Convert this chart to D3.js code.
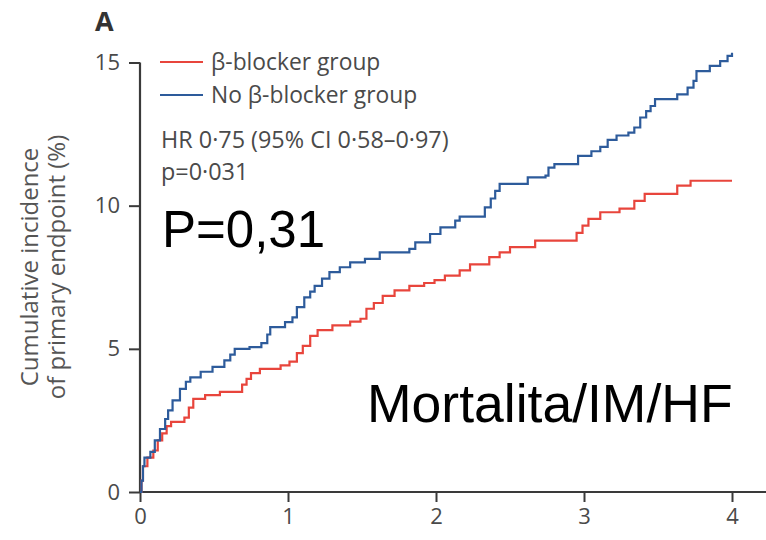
<!DOCTYPE html>
<html><head><meta charset="utf-8">
<script src="https://cdn.jsdelivr.net/npm/d3@7/dist/d3.min.js"></script>
<style>body{margin:0;background:#fff}svg{display:block}</style>
</head><body>
<svg id="chart" width="766" height="540"></svg>
<script>
// Data (years, cumulative incidence %)
const seriesNames = ["β-blocker group", "No β-blocker group"];
const redTime  = [0,0.01,0.02,0.05,0.09,0.12,0.15,0.18,0.21,0.3,0.33,0.36,0.44,0.54,0.69,0.72,0.75,0.81,0.95,1.01,1.06,1.1,1.15,1.2,1.3,1.42,1.49,1.53,1.58,1.64,1.72,1.82,1.92,1.99,2.06,2.16,2.23,2.36,2.43,2.5,2.67,2.95,2.99,3.03,3.11,3.24,3.34,3.41,3.63,3.72,4.0];
const redValue = [0,0.4,0.9,1.2,1.45,1.8,2.05,2.3,2.45,2.6,2.95,3.25,3.38,3.5,3.75,3.95,4.15,4.3,4.42,4.55,4.85,5.1,5.45,5.65,5.82,5.95,6.05,6.4,6.6,6.85,7.04,7.2,7.3,7.4,7.56,7.74,7.95,8.2,8.37,8.55,8.78,9.05,9.3,9.54,9.77,9.9,10.17,10.41,10.7,10.87,10.87];
const blueTime  = [0,0.01,0.02,0.03,0.07,0.1,0.135,0.17,0.19,0.22,0.27,0.31,0.34,0.41,0.49,0.57,0.61,0.64,0.74,0.82,0.86,0.88,0.98,1.03,1.06,1.11,1.15,1.18,1.23,1.28,1.35,1.42,1.52,1.62,1.82,1.86,1.96,2.03,2.13,2.16,2.33,2.37,2.4,2.43,2.62,2.74,2.76,2.8,2.96,3.05,3.11,3.16,3.22,3.3,3.34,3.38,3.42,3.45,3.48,3.63,3.7,3.74,3.76,3.85,3.92,3.97,4.0];
const blueValue = [0,0.4,0.9,1.2,1.4,1.8,2.2,2.55,2.85,3.2,3.6,3.85,4.0,4.2,4.37,4.6,4.8,5.0,5.06,5.2,5.5,5.76,5.93,6.1,6.46,6.8,7.0,7.2,7.45,7.68,7.85,8.02,8.14,8.37,8.49,8.72,9.01,9.24,9.48,9.62,9.94,10.25,10.52,10.76,10.99,11.05,11.33,11.45,11.74,11.9,12.05,12.3,12.45,12.55,12.73,13.08,13.3,13.48,13.72,13.89,14.12,14.36,14.7,14.88,15.05,15.23,15.34];
const xTicks = [0,1,2,3,4];
const yTicks = [0,5,10,15];
const statLines = ["HR 0·75 (95% CI 0·58–0·97)", "p=0·031"];
const overlayP = "P=0,31";
const overlayEndpoint = "Mortalita/IM/HF";
const yTitle = ["Cumulative incidence", "of primary endpoint (%)"];
const colors = ["#e8453c", "#2d5b9b"];

const svg = d3.select("#chart");
const x = d3.scaleLinear().domain([0,4]).range([140,732]);
const y = d3.scaleLinear().domain([0,15]).range([492,62.5]);
const axisColor = "#3a3a3a";
const fontText = "'Open Sans', Lato, sans-serif";
const fontTick = "'Liberation Sans Narrow', 'Open Sans', sans-serif";

// Y axis
const yAxis = svg.append("g").attr("transform","translate(140,0)")
  .call(d3.axisLeft(y).tickValues(yTicks).tickSize(11).tickPadding(9).tickFormat(d3.format("d")));
yAxis.select(".domain").attr("stroke",axisColor).attr("stroke-width",2.2).attr("d","M0,"+y(15)+"V"+y(0));
yAxis.selectAll(".tick line").attr("stroke",axisColor).attr("stroke-width",2);
yAxis.selectAll(".tick text").attr("fill","#4a4a4a").style("font-family",fontTick).style("font-size","22px");

// X axis
const xAxis = svg.append("g").attr("transform","translate(0,492)")
  .call(d3.axisBottom(x).tickValues(xTicks).tickSize(10).tickPadding(6).tickFormat(d3.format("d")));
xAxis.select(".domain").attr("stroke",axisColor).attr("stroke-width",2.2).attr("d","M140,0H766");
xAxis.selectAll(".tick line").attr("stroke",axisColor).attr("stroke-width",2);
xAxis.selectAll(".tick text").attr("fill","#4a4a4a").style("font-family",fontTick).style("font-size","22px");

// Curves
const line = d3.line().x(d=>x(d[0])).y(d=>y(d[1])).curve(d3.curveStepAfter);
const series = [
  {name:seriesNames[0], color:colors[0], data:d3.zip(redTime, redValue)},
  {name:seriesNames[1], color:colors[1], data:d3.zip(blueTime, blueValue)}
];
svg.append("g").selectAll("path").data(series).join("path")
  .attr("d", d=>line(d.data)).attr("fill","none")
  .attr("stroke", d=>d.color).attr("stroke-width",2.2).attr("stroke-linejoin","miter");

// Legend
const leg = svg.append("g");
series.forEach((s,i)=>{
  const yy = 62 + i*33;
  leg.append("line").attr("x1",160).attr("x2",203).attr("y1",yy).attr("y2",yy)
    .attr("stroke",s.color).attr("stroke-width",2);
  leg.append("text").attr("x",211).attr("y",yy).attr("dy","0.35em")
    .attr("fill","#4a4a4a").style("font-family",fontText).style("font-size","22.8px").text(s.name);
});
statLines.forEach((t,i)=>{
  svg.append("text").attr("x",161).attr("y",140 + i*32).attr("dy","0.35em")
    .attr("fill","#4a4a4a").style("font-family",fontText).style("font-size","23.4px").text(t);
});

// Panel label
svg.append("text").attr("x",95).attr("y",31).attr("fill","#333")
  .style("font-family","'Open Sans', sans-serif").style("font-weight","bold").style("font-size","27px").text("A");

// Y title
const yt = svg.append("text").attr("transform","translate(38,267) rotate(-90)")
  .attr("text-anchor","middle").attr("fill","#555").style("font-family",fontText).style("font-size","24px");
yt.append("tspan").attr("x",0).attr("y",0).text(yTitle[0]);
yt.append("tspan").attr("x",0).attr("y",27).text(yTitle[1]);

// Overlay annotations
svg.append("text").attr("x",162).attr("y",247).attr("fill","#000")
  .style("font-family","'Liberation Sans', Arial, sans-serif").style("font-size","51px").text(overlayP);
svg.append("text").attr("x",367).attr("y",422).attr("fill","#000")
  .style("font-family","'Liberation Sans', Arial, sans-serif").style("font-size","53.5px").text(overlayEndpoint);
</script>
</body></html>
